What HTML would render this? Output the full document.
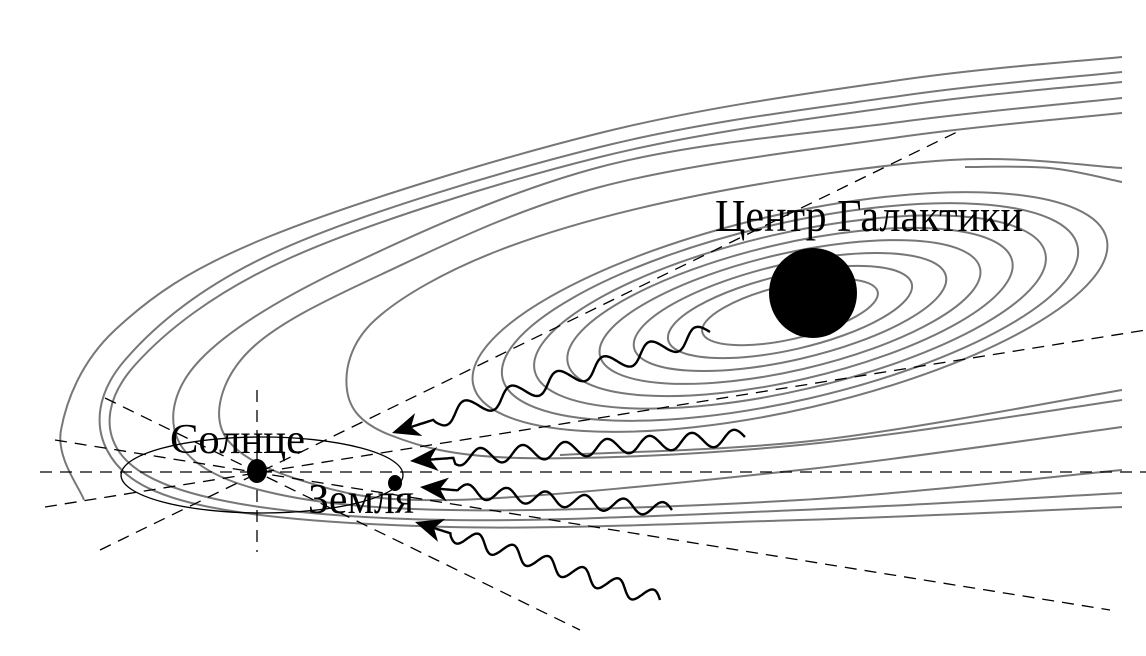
<!DOCTYPE html>
<html><head><meta charset="utf-8"><style>
html,body{margin:0;padding:0;background:#fff;overflow:hidden}
svg{display:block}
text{font-family:"Liberation Serif","DejaVu Serif",serif;fill:#000}
</style></head><body>
<svg id="s" width="1146" height="656" viewBox="0 0 1146 656" xmlns="http://www.w3.org/2000/svg">
<g id="gal" fill="none" stroke="#777" stroke-width="2"></g>
<g fill="none" stroke="#000" stroke-width="1.3" stroke-dasharray="12,8">
<line x1="40" y1="472" x2="1146" y2="472"/>
<line x1="257" y1="390" x2="257" y2="552"/>
<line x1="100" y1="550" x2="957" y2="132"/>
<line x1="45" y1="507" x2="1146" y2="330"/>
<line x1="55" y1="440" x2="1110" y2="610"/>
<line x1="105" y1="398" x2="580" y2="630"/>
</g>
<ellipse cx="262" cy="475" rx="141" ry="38" fill="none" stroke="#000" stroke-width="1.3"/>
<ellipse cx="257" cy="471" rx="10" ry="12" fill="#000"/>
<ellipse cx="395" cy="483" rx="7" ry="8" fill="#000"/>
<ellipse cx="813" cy="293" rx="44" ry="45" fill="#000"/>
<g id="waves" fill="none" stroke="#000" stroke-width="2.4"></g>
<text x="715" y="231" font-size="46" textLength="308" lengthAdjust="spacingAndGlyphs">Центр Галактики</text>
<text x="170" y="453" font-size="42" textLength="135" lengthAdjust="spacingAndGlyphs">Солнце</text>
<text x="308" y="513" font-size="42" textLength="106" lengthAdjust="spacingAndGlyphs">Земля</text>
</svg>
<script>
var NS="http://www.w3.org/2000/svg";
var gal=document.getElementById("gal");
function ell(cx,cy,a,b,rot){var e=document.createElementNS(NS,"ellipse");e.setAttribute("cx",cx);e.setAttribute("cy",cy);e.setAttribute("rx",a);e.setAttribute("ry",b);e.setAttribute("transform","rotate("+rot+" "+cx+" "+cy+")");gal.appendChild(e);}
function cr(pts){var d="M"+pts[0][0]+","+pts[0][1];for(var i=0;i<pts.length-1;i++){var p0=pts[i-1]||pts[i],p1=pts[i],p2=pts[i+1],p3=pts[i+2]||p2;var c1=[p1[0]+(p2[0]-p0[0])/6,p1[1]+(p2[1]-p0[1])/6],c2=[p2[0]-(p3[0]-p1[0])/6,p2[1]-(p3[1]-p1[1])/6];d+="C"+c1.join(",")+" "+c2.join(",")+" "+p2.join(",");}var p=document.createElementNS(NS,"path");p.setAttribute("d",d);gal.appendChild(p);}
cr([[84,500],[61,430],[115,330],[268,237],[600,133],[900,80],[1122,57]]);
cr([[1122,507],[800,520],[450,527],[200,505],[107,450],[125,360],[280,250],[600,147],[900,96],[1122,72]]);
cr([[1122,493],[800,510],[450,520],[220,500],[118,450],[135,365],[290,258],[600,157],[900,106],[1122,82]]);
cr([[1122,470],[800,500],[450,510],[260,490],[178,440],[200,360],[340,270],[600,167],[900,122],[1122,98]]);
cr([[1122,427],[800,470],[450,500],[300,480],[222,430],[250,350],[380,275],[600,187],[900,137],[1122,113]]);
cr([[1122,400],[800,445],[520,458],[390,435],[347,390],[375,320],[500,250],[700,195],[950,160],[1122,168]]);
cr([[1122,390],[820,440],[560,455]]);
cr([[965,167],[1050,168],[1122,182]]);
[325,295,262,228,195,160,125,90].forEach(function(a){ell(790,312,a,a*0.3,-13);});
var w=document.getElementById("waves");
function wave2(x0,y0,x1,y1,n,amp){var dx=x1-x0,dy=y1-y0,L=Math.hypot(dx,dy),ux=dx/L,uy=dy/L,px=-uy,py=ux;var d="";var N=200;var ex=x1-ux*18,ey=y1-uy*18;for(var i=0;i<=N;i++){var t=i/N;var s=(i<N*0.92)?Math.sin(t*n*2*Math.PI)*amp:0;var x=x0+(ex-x0)*t+px*s,y=y0+(ey-y0)*t+py*s;d+=(i?"L":"M")+x.toFixed(1)+","+y.toFixed(1);}var p=document.createElementNS(NS,"path");p.setAttribute("d",d);w.appendChild(p);
var ang=Math.atan2(-dy,-dx)*180/Math.PI;var h=document.createElementNS(NS,"path");h.setAttribute("d","M0,0 L28,-12 L20,0 L28,12 Z");h.setAttribute("fill","#000");h.setAttribute("stroke","none");h.setAttribute("transform","translate("+x1+","+y1+") rotate("+ang+")");w.appendChild(h);}
wave2(710,332,392,433,6.5,9);
wave2(745,437,410,461,7.5,8);
wave2(672,510,420,487,6,7);
wave2(660,600,415,522,6.5,8);
</script>
</body></html>
